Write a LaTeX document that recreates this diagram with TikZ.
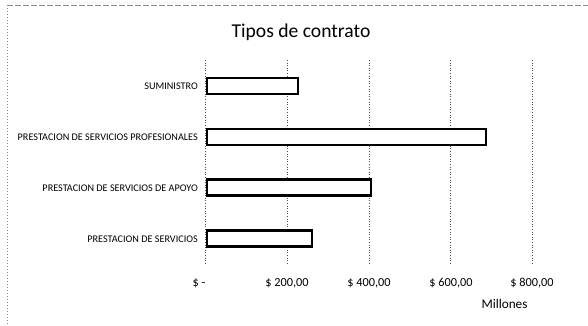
\documentclass[tikz,border=0pt]{standalone}
\usepackage{fontspec}
\setmainfont{Carlito}
\begin{document}
\begin{tikzpicture}[x=1pt,y=-1pt,
  bar/.style={draw=black,line width=2.2pt,fill=white,minimum height=16pt,inner sep=0pt,anchor=west},
  cat/.style={anchor=east,font=\fontsize{10.2}{11}\selectfont,inner sep=0pt},
  tick/.style={font=\fontsize{12.3}{13}\selectfont,inner sep=0pt},
  grid/.style={draw=black!70,line width=0.6pt,dotted}]
\useasboundingbox (0,0) rectangle (588,325);
% scan frame
\draw[black!45,line width=0.5pt,dash pattern=on 6pt off 2pt] (7,5) -- (588,5);
\draw[black!45,line width=0.5pt,dash pattern=on 1pt off 2pt] (7,5) -- (7,325);
% title
\node[font=\fontsize{19.6}{21}\selectfont,inner sep=0pt] (title) at (301,32) {Tipos de contrato};
% gridlines
\foreach \n/\x in {g0/205,g2/287,g4/369,g6/450,g8/532}{
  \coordinate (\n t) at (\x,60);
  \coordinate (\n b) at (\x,263);
  \draw[grid] (\n t) -- (\n b);
}
% bars
\node[bar,minimum width=91pt] (b1) at (206,86) {};
\node[bar,minimum width=279pt] (b2) at (206,137) {};
\node[bar,minimum width=164pt] (b3) at (206,187.5) {};
\node[bar,minimum width=105pt] (b4) at (206,238.5) {};
% category labels
\node[cat] (l1) at (198,86) {SUMINISTRO};
\node[cat] (l2) at (198,137) {PRESTACION DE SERVICIOS PROFESIONALES};
\node[cat] (l3) at (198,188) {PRESTACION DE SERVICIOS DE APOYO};
\node[cat] (l4) at (198,239) {PRESTACION DE SERVICIOS};
% tick labels
\node[tick] (t0) at (199,283) {\$ -};
\node[tick] (t2) at (287,283) {\$ 200,00};
\node[tick] (t4) at (369,283) {\$ 400,00};
\node[tick] (t6) at (451,283) {\$ 600,00};
\node[tick] (t8) at (532,283) {\$ 800,00};
\node[tick,font=\fontsize{13.2}{14}\selectfont] (mil) at (504.5,304) {Millones};
\end{tikzpicture}
\end{document}
